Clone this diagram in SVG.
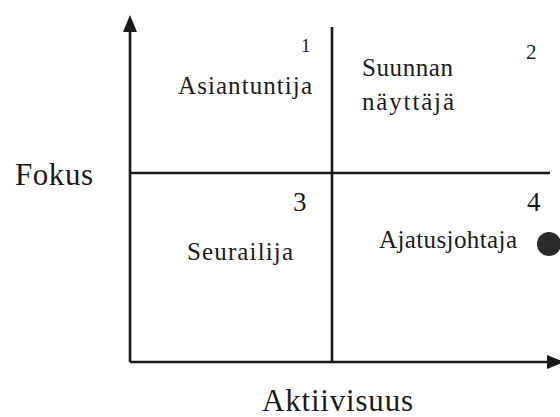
<svg xmlns="http://www.w3.org/2000/svg" width="560" height="417" viewBox="0 0 560 417">
<style>
text{font-family:"Liberation Serif","DejaVu Serif",serif;fill:#1a1a1a}
.ax{stroke:#1a1a1a;stroke-width:2.6;fill:none}
.lbl{font-size:25px}
.big{font-size:31px}
.head{fill:#1a1a1a}
</style>
<rect width="560" height="417" fill="#fff"/>
<g id="connectors">
<path class="ax" d="M130,362 V30"/>
<path class="head" d="M130,15 L123,32 L137,32 Z"/>
<path class="ax" d="M130,362 H550"/>
<path class="head" d="M564,362 L547,355 L547,369 Z"/>
<path class="ax" d="M332,27 V362"/>
<path class="ax" d="M130,173 H550"/>
</g>
<g id="q1">
<text x="301" y="52" style="font-size:19px">1</text>
<text x="178" y="94" class="lbl" textLength="134">Asiantuntija</text>
</g>
<g id="q2">
<text x="526" y="59" style="font-size:21px">2</text>
<text x="362" y="76" class="lbl" textLength="91">Suunnan</text>
<text x="362" y="110" class="lbl" textLength="92">näyttäjä</text>
</g>
<g id="q3">
<text x="293" y="211" style="font-size:27px">3</text>
<text x="187" y="260" class="lbl" textLength="106">Seurailija</text>
</g>
<g id="q4">
<text x="527" y="211" style="font-size:27px">4</text>
<text x="379" y="248" class="lbl" textLength="138">Ajatusjohtaja</text>
<circle cx="549" cy="244" r="12" fill="#2a2a2a"/>
</g>
<g id="axis-labels">
<text x="15" y="185" class="big" textLength="78">Fokus</text>
<text x="262" y="411" class="big" textLength="151">Aktiivisuus</text>
</g>
</svg>
